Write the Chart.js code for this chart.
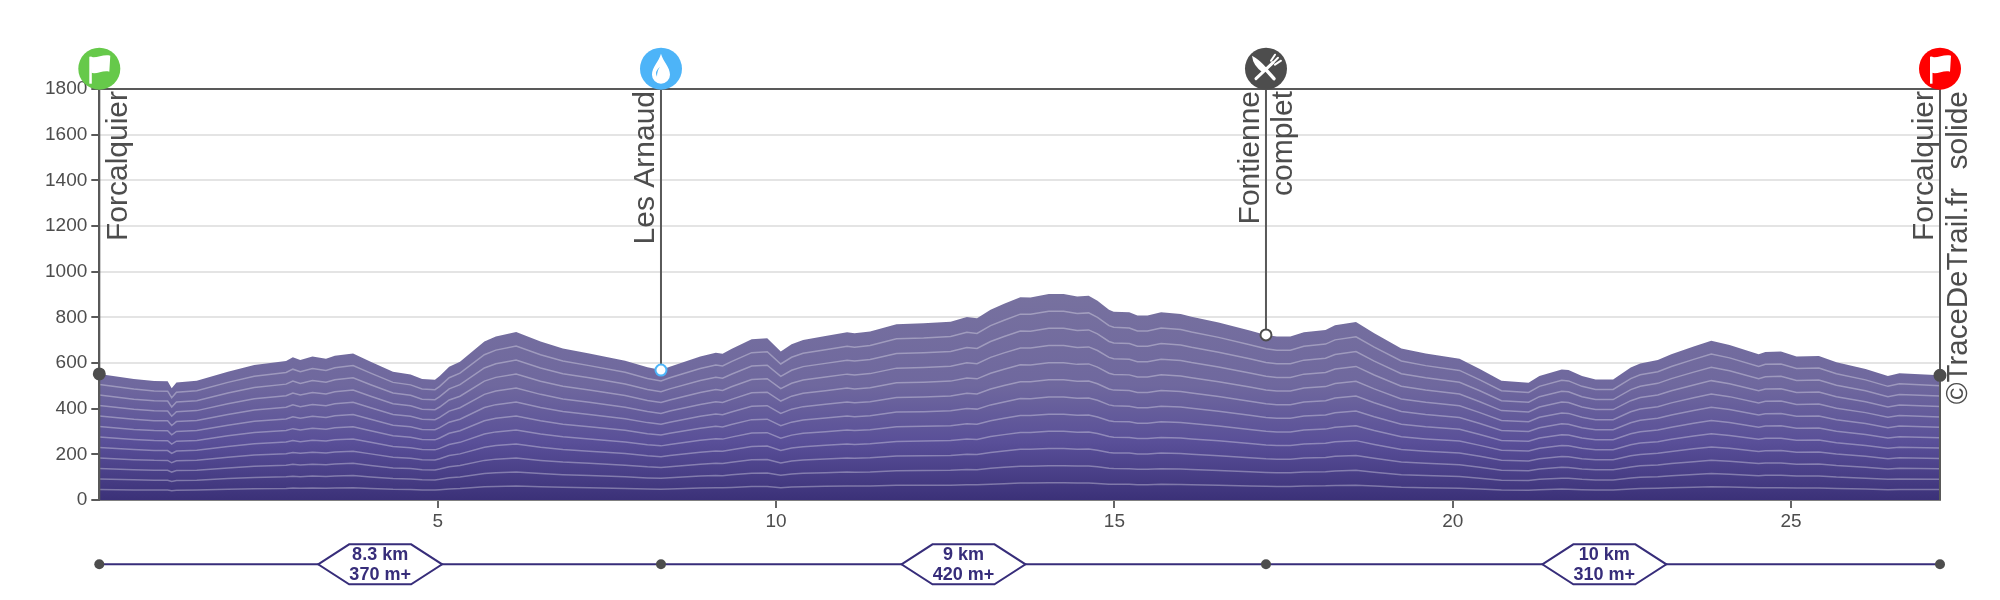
<!DOCTYPE html>
<html>
<head>
<meta charset="utf-8">
<script src="https://cdn.jsdelivr.net/npm/chart.js@4/dist/chart.umd.min.js"></script>
<style>
body { margin: 0; background: #fff; }
canvas { display: block; }
</style>
</head>
<body>
<canvas id="profile" width="2000" height="600"></canvas>
<script>
// profile
const distanceKm = [
  0, 0.51, 0.81, 1.01, 1.07, 1.14, 1.44, 1.9, 2.29, 2.76, 2.86, 2.97, 3.15, 3.35, 3.48, 3.75,
  4.01, 4.34, 4.6, 4.77, 4.96, 5.03, 5.17, 5.33, 5.69, 5.86, 6.16, 6.52, 6.85, 7.24, 7.77, 8.1,
  8.3, 8.43, 8.88, 9.11, 9.21, 9.34, 9.64, 9.87, 10.07, 10.23, 10.4, 10.73, 11.05, 11.16, 11.39,
  11.78, 12.18, 12.58, 12.82, 12.97, 13.17, 13.37, 13.61, 13.76, 14.03, 14.25, 14.45, 14.62,
  14.75, 14.92, 14.99, 15.22, 15.34, 15.49, 15.69, 15.98, 16.14, 16.54, 17.0, 17.24, 17.4, 17.6,
  17.8, 18.12, 18.26, 18.57, 18.84, 19.24, 19.6, 20.1, 20.4, 20.72, 21.12, 21.28, 21.61, 21.71,
  21.91, 22.11, 22.37, 22.63, 22.77, 23.03, 23.23, 23.56, 23.82, 24.09, 24.52, 24.62, 24.85,
  25.08, 25.41, 25.67, 26.1, 26.43, 26.6, 27.2
];
const elevationM = [
  552, 530, 521, 520, 489, 515, 522, 562, 591, 609, 625, 613, 628, 619, 632, 642,
  606, 562, 550, 530, 527, 543, 584, 606, 694, 716, 736, 694, 664, 642, 610, 581,
  569, 584, 628, 645, 640, 661, 704, 708, 650, 682, 701, 718, 735, 730, 738,
  770, 774, 781, 801, 796, 833, 859, 888, 887, 902, 902, 891, 894,
  873, 833, 825, 822, 808, 808, 822, 815, 803, 777, 742, 723, 716, 716,
  735, 745, 765, 780, 730, 664, 642, 619, 574, 522, 514, 543, 572, 569,
  543, 528, 528, 580, 598, 613, 638, 672, 697, 679, 638, 648, 650,
  628, 631, 603, 574, 543, 555, 546
];

const elevationTicks = [0, 200, 400, 600, 800, 1000, 1200, 1400, 1600, 1800];
const kmTicks = [5, 10, 15, 20, 25];

// the white contours sit at each twelfth of the height of the profile
const contourShares = [1/12, 2/12, 3/12, 4/12, 5/12, 6/12, 7/12, 8/12, 9/12, 10/12, 11/12];

const waypointKm = [0, 8.3, 17.24, 27.2];
const waypointElevation = [552, 569, 723, 546];
const waypointLineEnd = [0, 569, 723, 0];
const waypointFill = ["#4d4d4d", "#ffffff", "#ffffff", "#4d4d4d"];
const waypointBorder = ["#4d4d4d", "#4db4f8", "#4d4d4d", "#4d4d4d"];
const waypointColor = ["#66c94a", "#4db4f8", "#4d4d4d", "#ff0000"];
const waypointIcon = ["flag", "drop", "food", "flag"];

const sectionKm = [4.15, 12.77, 22.24];
const sectionDistance = ["8.3 km", "9 km", "10 km"];
const sectionClimb = ["370 m+", "420 m+", "310 m+"];

const grey = "#4d4d4d";
const violet = "#372d7a";

function xy(values) {
    return distanceKm.map(function (km, i) {
        return { x: km, y: values[i] };
    });
}

function fillGradient(context)
{
    const chart = context.chart;
    if (!chart.chartArea) return "#5a4f99";
    const y = chart.scales.y;
    const g = chart.ctx.createLinearGradient(0, y.getPixelForValue(0), 0, y.getPixelForValue(900));
    g.addColorStop(0, "#3b3178");
    g.addColorStop(0.28, "#594f98");
    g.addColorStop(0.56, "#6f689e");
    g.addColorStop(1, "#77719f");
    return g;
}

const datasets = [];

// waypoint lines and dots on top
datasets.push({
    data: waypointKm.map(function (km, i) { return { x: km, y: waypointElevation[i] }; }),
    showLine: false,
    pointRadius: 5.5,
    pointBorderWidth: 2,
    pointBackgroundColor: waypointFill,
    pointBorderColor: waypointBorder,
    clip: false,
    order: 0
});

waypointKm.forEach(function (km, i) {
    datasets.push({
        data: [{ x: km, y: 1800 }, { x: km, y: waypointLineEnd[i] }],
        borderColor: "#595959",
        borderWidth: 2,
        pointRadius: 0,
        clip: false,
        order: 1
    });
});

contourShares.forEach(function (share) {
    datasets.push({
        data: xy(elevationM.map(function (v) { return v * share; })),
        borderColor: "rgba(255,255,255,0.32)",
        borderWidth: 1.5,
        pointRadius: 0,
        tension: 0,
        order: 2
    });
});

datasets.push({
    data: xy(elevationM),
    borderWidth: 0,
    pointRadius: 0,
    tension: 0,
    fill: "origin",
    backgroundColor: fillGradient,
    order: 3
});

function drawFlag(c, x, y)
{
    c.fillStyle = "#fff";
    c.fillRect(x - 10, y - 12, 2.5, 27);
    c.beginPath();
    c.moveTo(x - 9, y - 12);
    c.bezierCurveTo(x - 3, y - 10, x + 4, y - 15, x + 11, y - 13);
    c.lineTo(x + 10, y + 3);
    c.bezierCurveTo(x + 4, y + 1, x - 3, y + 6, x - 8, y + 4);
    c.closePath();
    c.fill();
}

function drawDrop(c, x, y, color)
{
    c.fillStyle = "#fff";
    c.beginPath();
    c.moveTo(x, y - 15);
    c.bezierCurveTo(x + 2, y - 7, x + 9, y - 2, x + 9, y + 6);
    c.arc(x, y + 6, 9, 0, Math.PI);
    c.bezierCurveTo(x - 9, y - 2, x - 2, y - 7, x, y - 15);
    c.fill();
    c.fillStyle = color;
    c.beginPath();
    c.moveTo(x - 1, y - 2);
    c.quadraticCurveTo(x - 7, y + 3, x - 4, y + 8);
    c.quadraticCurveTo(x - 4, y + 2, x - 1, y - 2);
    c.fill();
}

function drawFood(c, x, y)
{
    c.strokeStyle = "#fff";
    c.fillStyle = "#fff";
    c.lineCap = "round";
    // knife
    c.lineWidth = 3.5;
    c.beginPath();
    c.moveTo(x - 1, y);
    c.lineTo(x + 8, y + 10);
    c.stroke();
    c.beginPath();
    c.moveTo(x - 14, y - 13);
    c.quadraticCurveTo(x - 6, y - 9, x + 2, y + 1);
    c.lineTo(x - 3, y + 4);
    c.quadraticCurveTo(x - 13, y - 3, x - 14, y - 13);
    c.fill();
    // fork
    c.lineWidth = 3;
    c.beginPath();
    c.moveTo(x - 10, y + 10);
    c.lineTo(x + 7, y - 6);
    c.stroke();
    c.lineWidth = 2;
    c.beginPath();
    c.moveTo(x + 5, y - 8);
    c.lineTo(x + 9, y - 14);
    c.moveTo(x + 7, y - 6);
    c.lineTo(x + 12, y - 11);
    c.moveTo(x + 9, y - 4);
    c.lineTo(x + 15, y - 8);
    c.stroke();
    c.lineCap = "butt";
}

function sideText(c, text, x, top, size)
{
    c.save();
    c.translate(x, top);
    c.rotate(-Math.PI / 2);
    c.font = size + "px 'Liberation Sans'";
    c.fillStyle = grey;
    c.textAlign = "right";
    c.textBaseline = "alphabetic";
    c.fillText(text, 0, 0);
    c.restore();
}

const decorations = {
    id: "decorations",
    afterDraw: function (chart) {
        const c = chart.ctx;
        const x = chart.scales.x;

        // waypoint badges
        waypointKm.forEach(function (km, i) {
            const px = x.getPixelForValue(km);
            c.fillStyle = waypointColor[i];
            c.beginPath();
            c.arc(px, 68.7, 21, 0, Math.PI * 2);
            c.fill();
            if (waypointIcon[i] == "flag") drawFlag(c, px, 68.7);
            if (waypointIcon[i] == "drop") drawDrop(c, px, 68.7, waypointColor[i]);
            if (waypointIcon[i] == "food") drawFood(c, px, 68.7);
        });

        // names along the lines
        sideText(c, "Forcalquier", 126.7, 91, 30);
        sideText(c, "Les Arnaud", 654, 91, 30);
        sideText(c, "Fontienne", 1259.3, 91, 30);
        sideText(c, "complet", 1292, 91, 30);
        sideText(c, "Forcalquier", 1933, 91, 30);
        sideText(c, "solide", 1966.7, 91, 30);
        sideText(c, "©TraceDeTrail.fr", 1966.7, 188, 29.5);

        // sections row
        const rowY = 564.3;
        c.strokeStyle = violet;
        c.lineWidth = 2;
        c.beginPath();
        c.moveTo(x.getPixelForValue(waypointKm[0]), rowY);
        c.lineTo(x.getPixelForValue(waypointKm[3]), rowY);
        c.stroke();

        waypointKm.forEach(function (km) {
            c.fillStyle = grey;
            c.beginPath();
            c.arc(x.getPixelForValue(km), rowY, 5, 0, Math.PI * 2);
            c.fill();
        });

        sectionKm.forEach(function (km, i) {
            const px = x.getPixelForValue(km);
            c.beginPath();
            c.moveTo(px - 62, rowY);
            c.lineTo(px - 31, rowY - 20);
            c.lineTo(px + 31, rowY - 20);
            c.lineTo(px + 62, rowY);
            c.lineTo(px + 31, rowY + 20);
            c.lineTo(px - 31, rowY + 20);
            c.closePath();
            c.fillStyle = "#fff";
            c.fill();
            c.stroke();
            c.fillStyle = violet;
            c.font = "bold 18px 'Liberation Sans'";
            c.textAlign = "center";
            c.textBaseline = "middle";
            c.fillText(sectionDistance[i], px, rowY - 9);
            c.fillText(sectionClimb[i], px, rowY + 10.5);
        });
    }
};

new Chart(document.getElementById("profile"), {
    type: "line",
    data: { datasets: datasets },
    plugins: [decorations],
    options: {
        responsive: false,
        animation: false,
        devicePixelRatio: 1,
        layout: { padding: { top: 89, right: 60, left: 0, bottom: 60 } },
        plugins: { legend: { display: false }, tooltip: { enabled: false } },
        scales: {
            x: {
                type: "linear",
                min: 0,
                max: 27.2,
                afterBuildTicks: function (s) {
                    s.ticks = kmTicks.map(function (v) { return { value: v }; });
                },
                afterFit: function (s) { s.height = 40; },
                grid: { drawOnChartArea: false, color: "#666", tickColor: "#666", tickLength: 8, lineWidth: 2 },
                border: { color: "#808080", width: 2 },
                ticks: {
                    color: grey,
                    padding: 2,
                    maxRotation: 0,
                    font: { family: "'Liberation Sans'", size: 19 }
                }
            },
            y: {
                min: 0,
                max: 1800,
                afterBuildTicks: function (s) {
                    s.ticks = elevationTicks.map(function (v) { return { value: v }; });
                },
                afterFit: function (s) { s.width = 99.3; },
                grid: {
                    color: function (ctx) { return ctx.tick && ctx.tick.value == 1800 ? "#595959" : "#e4e4e4"; },
                    tickColor: "#595959",
                    tickLength: 8,
                    lineWidth: 2
                },
                border: { color: "#595959", width: 2 },
                ticks: {
                    color: grey,
                    padding: 4,
                    font: { family: "'Liberation Sans'", size: 19 },
                    callback: function (v) { return String(v); }
                }
            }
        }
    }
});
</script>
</body>
</html>
